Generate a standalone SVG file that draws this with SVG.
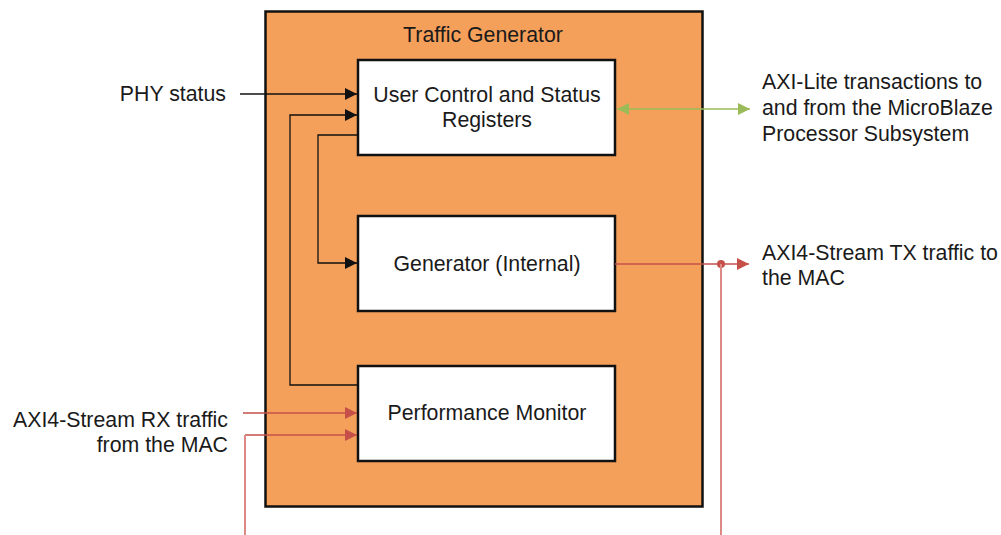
<svg xmlns="http://www.w3.org/2000/svg" width="1001" height="535" viewBox="0 0 1001 535">
<defs>
<style>
text{font-family:"Liberation Sans",Arial,sans-serif;font-size:21.3px;fill:#1a1a1a}
.box{fill:#fff;stroke:#111;stroke-width:2.5}
.blk{fill:none;stroke:#111;stroke-width:1.3}
.red{fill:none;stroke:#c5504a;stroke-width:1.3}
.pink{fill:none;stroke:#dd8a86;stroke-width:2}
.grn{fill:none;stroke:#9bbb59;stroke-width:1.6}
</style>
<marker id="ab" viewBox="0 0 10 10" refX="10" refY="5" markerWidth="18" markerHeight="12" markerUnits="userSpaceOnUse" orient="auto"><path d="M0,0L10,5L0,10z" fill="#111"/></marker>
<marker id="ar" viewBox="0 0 10 10" refX="10" refY="5" markerWidth="18" markerHeight="12" markerUnits="userSpaceOnUse" orient="auto"><path d="M0,0L10,5L0,10z" fill="#c5504a"/></marker>
<marker id="ag" viewBox="0 0 10 10" refX="10" refY="5" markerWidth="18" markerHeight="12" markerUnits="userSpaceOnUse" orient="auto-start-reverse"><path d="M0,0L10,5L0,10z" fill="#9bbb59"/></marker>
</defs>
<g id="traffic-generator">
<rect x="265.5" y="11.5" width="437" height="495" fill="#f5a05a" stroke="#111" stroke-width="2.5"/>
<text x="483" y="42" text-anchor="middle">Traffic Generator</text>
</g>
<g id="user-control">
<rect class="box" x="358" y="60" width="257" height="95"/>
<text x="487" y="102" text-anchor="middle">User Control and Status</text>
<text x="487" y="127" text-anchor="middle">Registers</text>
</g>
<g id="generator">
<rect class="box" x="358" y="216" width="257" height="95"/>
<text x="487" y="271" text-anchor="middle">Generator (Internal)</text>
</g>
<g id="perf-monitor">
<rect class="box" x="358" y="366" width="257" height="95"/>
<text x="487" y="420" text-anchor="middle">Performance Monitor</text>
</g>
<g id="labels">
<text x="226" y="101" text-anchor="end">PHY status</text>
<text x="762" y="89">AXI-Lite transactions to</text>
<text x="762" y="115">and from the MicroBlaze</text>
<text x="762" y="141">Processor Subsystem</text>
<text x="762" y="260">AXI4-Stream TX traffic to</text>
<text x="762" y="285">the MAC</text>
<text x="228" y="427" text-anchor="end">AXI4-Stream RX traffic</text>
<text x="228" y="452" text-anchor="end">from the MAC</text>
</g>
<g id="connectors">
<path class="blk" d="M240,94H357" marker-end="url(#ab)"/>
<path class="blk" d="M358,385H290V115H357" marker-end="url(#ab)"/>
<path class="blk" d="M358,135H318V263H357" marker-end="url(#ab)"/>
<path class="grn" d="M617,109H750" marker-start="url(#ag)" marker-end="url(#ag)"/>
<path class="red" d="M615,264H749" marker-end="url(#ar)"/>
<circle cx="721" cy="264" r="4" fill="#c5504a"/>
<path class="pink" d="M721,264V535"/>
<path class="red" d="M243,413H357" marker-end="url(#ar)"/>
<path class="red" d="M245,435H357" marker-end="url(#ar)"/>
<path class="pink" d="M245,435V535"/>
</g>
</svg>
